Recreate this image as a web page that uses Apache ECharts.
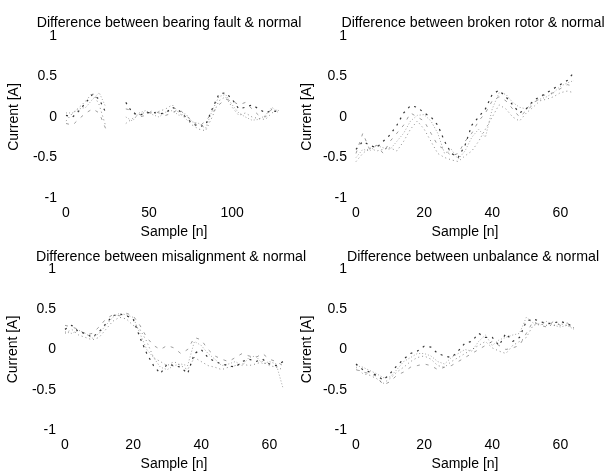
<!DOCTYPE html>
<html>
<head>
<meta charset="utf-8">
<script src="https://cdn.jsdelivr.net/npm/echarts@6/dist/echarts.min.js"></script>
<style>
html,body{margin:0;padding:0;background:#fff;}
#c{width:604px;height:472px;}
</style>
</head>
<body>
<div id="c"></div>
<script>
// ---- Data ----
const titles = [
  "Difference between bearing fault & normal",
  "Difference between broken rotor & normal",
  "Difference between misalignment & normal",
  "Difference between unbalance & normal"
];
const yTicks = [-1, -0.5, 0, 0.5, 1];
const xTicksBearing = [0, 50, 100];
const xTicksOther = [0, 20, 40, 60];

// bearing fault: sample index every 4
const nBearing = [0,4,8,12,16,20,24,28,32,36,40,44,48,52,56,60,64,68,72,76,80,84,88,92,96,100,104,108,112,116,120,124,128];
const bearingA = [0.02,0.0,0.08,0.18,0.28,0.22,0.05,null,null,0.18,0.05,0.02,0.05,0.06,0.04,0.05,0.12,0.08,0.0,-0.08,-0.12,-0.1,0.1,0.28,0.3,0.22,0.1,0.12,0.15,0.1,0.05,0.08,0.06];
const bearingB = [-0.05,0.05,0.12,0.2,0.3,0.15,-0.12,null,null,-0.08,-0.02,0.03,0.06,0.05,0.07,0.1,0.15,0.05,-0.02,-0.1,-0.15,-0.17,0.0,0.2,0.25,0.12,0.02,0.05,0.0,-0.02,-0.03,0.05,0.1];
const bearingC = [-0.08,-0.1,-0.02,0.05,0.1,0.05,-0.15,null,null,0.1,0.08,0.0,0.02,0.08,0.05,0.02,0.05,0.1,0.02,-0.05,-0.12,-0.05,0.05,0.15,0.22,0.2,0.15,0.18,0.1,0.02,0.0,0.1,0.08];
const bearingD = [0.05,0.05,0.1,0.12,0.22,0.3,0.12,null,null,0.0,-0.05,0.05,0.08,0.03,0.0,0.06,0.08,0.02,0.04,-0.06,-0.08,-0.14,0.08,0.25,0.28,0.15,0.05,0.0,-0.04,-0.03,0.02,0.12,0.05];

// other faults: sample index every 2
const nShort = [0,2,4,6,8,10,12,14,16,18,20,22,24,26,28,30,32,34,36,38,40,42,44,46,48,50,52,54,56,58,60,62,64];
const rotorA = [-0.4,-0.3,-0.35,-0.38,-0.3,-0.22,-0.1,0.05,0.14,0.12,0.05,0.0,-0.1,-0.3,-0.45,-0.5,-0.35,-0.1,0.0,0.1,0.28,0.33,0.25,0.15,0.05,0.1,0.2,0.25,0.3,0.35,0.4,0.45,0.55];
const rotorB = [-0.55,-0.45,-0.38,-0.42,-0.4,-0.38,-0.42,-0.3,-0.15,-0.05,-0.15,-0.3,-0.45,-0.5,-0.53,-0.55,-0.48,-0.42,-0.3,-0.15,0.0,0.15,0.1,0.0,-0.05,0.05,0.12,0.2,0.22,0.25,0.3,0.32,0.3];
const rotorC = [-0.45,-0.2,-0.4,-0.35,-0.45,-0.3,-0.2,-0.1,0.05,0.0,-0.05,-0.2,-0.35,-0.4,-0.48,-0.45,-0.3,-0.2,-0.05,0.05,0.2,0.25,0.2,0.1,0.0,0.08,0.15,0.25,0.28,0.3,0.35,0.4,0.38];
const rotorD = [-0.5,-0.4,-0.42,-0.35,-0.38,-0.4,-0.3,-0.2,-0.05,0.02,0.03,-0.05,-0.2,-0.45,-0.4,-0.52,-0.42,-0.25,-0.15,-0.25,0.1,0.3,0.28,0.18,0.12,0.1,0.18,0.22,0.25,0.3,0.38,0.42,0.45];

const misA = [0.25,0.3,0.22,0.2,0.15,0.22,0.32,0.42,0.44,0.42,0.38,0.15,-0.05,-0.2,-0.3,-0.18,-0.2,-0.22,-0.3,-0.05,0.0,-0.1,-0.15,-0.18,-0.2,-0.22,-0.15,-0.12,-0.15,-0.12,-0.18,-0.2,-0.15];
const misB = [0.2,0.25,0.18,0.15,0.12,0.15,0.25,0.35,0.4,0.38,0.3,0.25,0.1,-0.1,-0.15,-0.2,-0.15,-0.2,-0.25,-0.1,-0.15,-0.2,-0.22,-0.25,-0.22,-0.2,-0.18,-0.2,-0.18,-0.15,-0.2,-0.22,-0.25];
const misC = [0.3,0.28,0.25,0.18,0.2,0.28,0.38,0.43,0.42,0.45,0.42,0.3,0.15,0.05,0.0,0.05,0.02,-0.05,0.0,0.15,0.12,0.0,-0.08,-0.12,-0.15,-0.1,-0.05,-0.08,-0.1,-0.05,-0.12,-0.15,-0.2];
const misD = [0.22,0.2,0.24,0.2,0.14,0.2,0.3,0.4,0.45,0.43,0.4,0.2,0.0,-0.1,-0.22,-0.25,-0.2,-0.18,-0.2,0.1,0.05,-0.05,-0.12,-0.2,-0.18,-0.15,-0.2,-0.1,-0.08,-0.18,-0.15,-0.18,-0.48];

const unbA = [-0.18,-0.25,-0.28,-0.32,-0.38,-0.3,-0.2,-0.12,-0.05,-0.02,0.04,0.03,-0.05,-0.08,-0.1,-0.02,0.08,0.1,0.2,0.15,0.15,0.05,0.2,0.1,0.15,0.35,0.38,0.35,0.32,0.33,0.35,0.32,0.28];
const unbB = [-0.22,-0.3,-0.32,-0.36,-0.42,-0.36,-0.28,-0.22,-0.15,-0.1,-0.08,-0.12,-0.2,-0.22,-0.15,-0.1,-0.05,0.0,0.05,0.1,0.02,-0.02,-0.05,0.05,0.1,0.15,0.3,0.32,0.3,0.3,0.32,0.3,0.27];
const unbC = [-0.25,-0.28,-0.3,-0.33,-0.44,-0.4,-0.32,-0.28,-0.22,-0.2,-0.18,-0.2,-0.25,-0.22,-0.2,-0.15,-0.1,-0.05,0.0,0.05,0.1,0.05,0.0,0.02,0.05,0.2,0.35,0.3,0.28,0.35,0.3,0.33,0.26];
const unbD = [-0.2,-0.22,-0.26,-0.3,-0.35,-0.34,-0.25,-0.15,-0.1,-0.05,-0.05,-0.08,-0.15,-0.18,-0.1,-0.05,0.0,-0.02,0.1,0.18,0.05,0.12,0.15,0.18,0.2,0.4,0.33,0.3,0.35,0.3,0.28,0.3,0.25];

// ---- Build ----
const FONT = "'Liberation Sans', Arial, Helvetica, sans-serif";
const grids = [
  {left: 66, top: 36, width: 216, height: 162},
  {left: 356, top: 36, width: 218, height: 162},
  {left: 65, top: 269, width: 218, height: 162},
  {left: 356, top: 269, width: 218, height: 162}
];
const yNameGap = [45, 42, 45, 42];
const titlePos = [[164, 11], [468, 11], [166, 245], [468, 245]];
const plots = [
  {x: nBearing, lines: [bearingA, bearingB, bearingC, bearingD], max: 130, interval: 50},
  {x: nShort, lines: [rotorA, rotorB, rotorC, rotorD], max: 64, interval: 20},
  {x: nShort, lines: [misA, misB, misC, misD], max: 64, interval: 20},
  {x: nShort, lines: [unbA, unbB, unbC, unbD], max: 64, interval: 20}
];
const lineStyles = [
  {color: 'rgba(0,0,0,0.8)', type: [2, 5], width: 1.2},
  {color: 'rgba(0,0,0,0.45)', type: [1, 3], width: 1},
  {color: 'rgba(60,60,60,0.5)', type: [3, 6], width: 1},
  {color: 'rgba(0,0,0,0.35)', type: [1, 2], width: 1}
];

const option = {
  animation: false,
  backgroundColor: '#fff',
  title: titles.map((t, i) => ({
    text: t, left: titlePos[i][0], top: titlePos[i][1], textAlign: 'center',
    textStyle: {fontFamily: FONT, fontSize: 14.2, fontWeight: 'normal', color: '#000'}
  })),
  grid: grids,
  xAxis: plots.map((p, i) => ({
    type: 'value', gridIndex: i, min: 0, max: p.max, interval: p.interval,
    name: 'Sample [n]', nameLocation: 'middle', nameGap: 27,
    nameTextStyle: {fontFamily: FONT, fontSize: 14, color: '#000'},
    axisLine: {show: false}, axisTick: {show: false}, splitLine: {show: false},
    axisLabel: {fontFamily: FONT, fontSize: 14, color: '#000', margin: 8,
      formatter: v => (v % p.interval === 0 ? String(v) : '')}
  })),
  yAxis: plots.map((p, i) => ({
    type: 'value', gridIndex: i, min: yTicks[0], max: yTicks[yTicks.length - 1], interval: 0.5,
    name: 'Current [A]', nameLocation: 'middle', nameGap: yNameGap[i], nameRotate: 90,
    nameTextStyle: {fontFamily: FONT, fontSize: 14, color: '#000'},
    axisLine: {show: false}, axisTick: {show: false}, splitLine: {show: false},
    axisLabel: {fontFamily: FONT, fontSize: 14, color: '#000', margin: 9}
  })),
  series: []
};
plots.forEach((p, i) => {
  p.lines.forEach((vals, k) => {
    option.series.push({
      type: 'line', xAxisIndex: i, yAxisIndex: i, symbol: 'none', silent: true,
      connectNulls: false,
      lineStyle: lineStyles[k],
      data: p.x.map((n, j) => [n, vals[j]])
    });
  });
});
const chart = echarts.init(document.getElementById('c'), null, {renderer: 'canvas'});
chart.setOption(option);
</script>
</body>
</html>
